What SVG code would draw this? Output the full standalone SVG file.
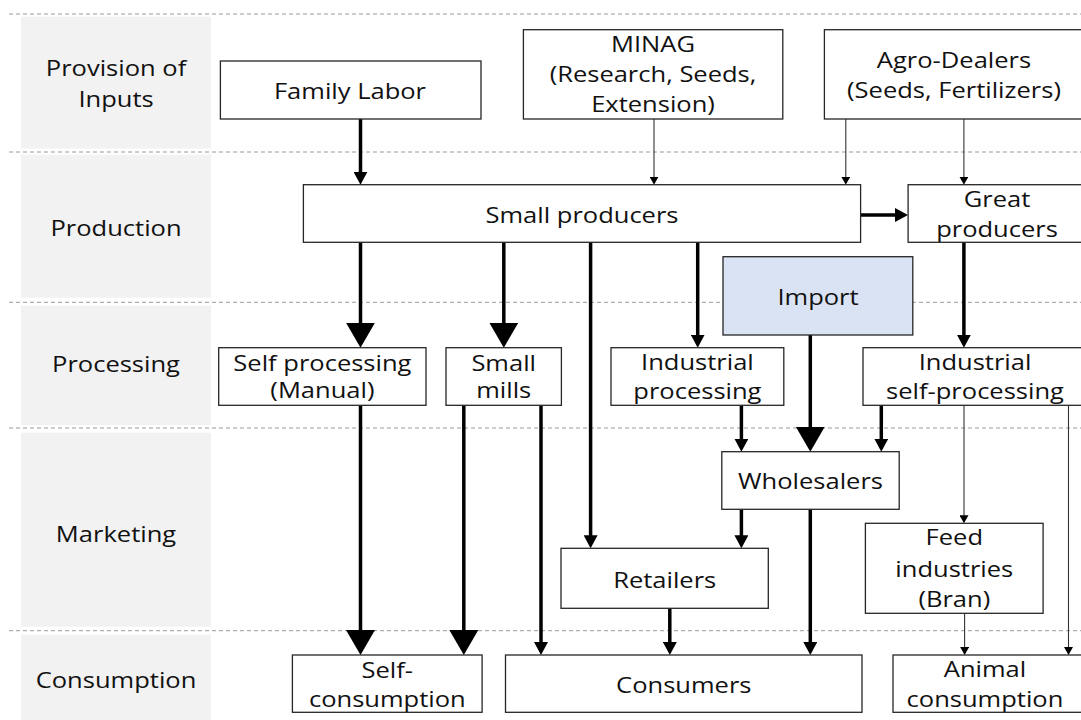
<svg xmlns="http://www.w3.org/2000/svg" width="1081" height="720" viewBox="0 0 1081 720">
<style>
.lane{fill:#f2f2f2;stroke:none}
.sep{stroke:#9a9a9a;stroke-width:1;stroke-dasharray:4 3;fill:none}
.box{fill:#ffffff;stroke:#262626;stroke-width:1.3}
.imp{fill:#dae3f3;stroke:#262626;stroke-width:1.3}
text{font-family:"Open Sans","Noto Sans","Liberation Sans",sans-serif;font-size:22px;fill:#111;text-anchor:middle}
.thick{stroke:#000;stroke-width:3.5;fill:none}
.thin{stroke:#333;stroke-width:1.1;fill:none}
</style>
<defs>
<marker id="big" markerUnits="userSpaceOnUse" viewBox="0 0 25 29" markerWidth="25" markerHeight="29" refX="1" refY="14.5" orient="auto"><path d="M0,0 L25,14.5 L0,29 z" fill="#000"/></marker>
<marker id="med" markerUnits="userSpaceOnUse" viewBox="0 0 13 14" markerWidth="13" markerHeight="14" refX="1" refY="7" orient="auto"><path d="M0,0 L13,7 L0,14 z" fill="#000"/></marker>
<marker id="sm" markerUnits="userSpaceOnUse" viewBox="0 0 8 9" markerWidth="8" markerHeight="9" refX="1" refY="4.5" orient="auto"><path d="M0,0 L8,4.5 L0,9 z" fill="#000"/></marker>
</defs>
<rect width="1081" height="720" fill="#ffffff"/>
<g id="lanes">
<rect class="lane" x="21" y="16.7" width="190" height="132"/>
<rect class="lane" x="21" y="154.7" width="190" height="143"/>
<rect class="lane" x="21" y="305.7" width="190" height="119.3"/>
<rect class="lane" x="21" y="432.7" width="190" height="194"/>
<rect class="lane" x="21" y="634.7" width="190" height="85.3"/>
<line class="sep" x1="9" y1="14" x2="1081" y2="14"/>
<line class="sep" x1="9" y1="152" x2="1081" y2="152"/>
<line class="sep" x1="9" y1="302.3" x2="1081" y2="302.3"/>
<line class="sep" x1="9" y1="428" x2="1081" y2="428"/>
<line class="sep" x1="9" y1="630.7" x2="1081" y2="630.7"/>
<text transform="translate(116 0) scale(1.16 1)"><tspan x="0" y="76.5">Provision of</tspan><tspan x="0" y="107">Inputs</tspan></text>
<text transform="translate(116 0) scale(1.16 1)" y="236">Production</text>
<text transform="translate(116 0) scale(1.16 1)" y="371.7">Processing</text>
<text transform="translate(116 0) scale(1.16 1)" y="541.7">Marketing</text>
<text transform="translate(116 0) scale(1.16 1)" y="688.3">Consumption</text>
</g>
<g id="connectors">
<line class="thick" x1="360.5" y1="119" x2="360.5" y2="172.7" marker-end="url(#med)"/>
<line class="thin" x1="654" y1="119" x2="654" y2="177.7" marker-end="url(#sm)"/>
<line class="thin" x1="845.8" y1="119" x2="845.8" y2="177.7" marker-end="url(#sm)"/>
<line class="thin" x1="963.9" y1="119" x2="963.9" y2="177.7" marker-end="url(#sm)" stroke="#666"/>
<line class="thick" x1="860.6" y1="215" x2="896" y2="215" marker-end="url(#med)"/>
<line class="thick" x1="360.5" y1="242.3" x2="360.5" y2="323.7" marker-end="url(#big)"/>
<line class="thick" x1="503.8" y1="242.3" x2="503.8" y2="323.7" marker-end="url(#big)"/>
<line class="thick" x1="590.6" y1="242.3" x2="590.6" y2="536.3" marker-end="url(#med)"/>
<line class="thick" x1="697.7" y1="242.3" x2="697.7" y2="335.7" marker-end="url(#med)"/>
<line class="thick" x1="963.9" y1="242.3" x2="963.9" y2="335.7" marker-end="url(#med)"/>
<line class="thick" x1="810.3" y1="335" x2="810.3" y2="427.7" marker-end="url(#big)"/>
<line class="thick" x1="741.4" y1="405.3" x2="741.4" y2="439.7" marker-end="url(#med)"/>
<line class="thick" x1="881.3" y1="405.3" x2="881.3" y2="439.7" marker-end="url(#med)"/>
<line class="thin" x1="964" y1="405.3" x2="964" y2="516.3" marker-end="url(#sm)"/>
<line class="thin" x1="1068.5" y1="405.3" x2="1068.5" y2="648" marker-end="url(#sm)"/>
<line class="thick" x1="360.5" y1="405.3" x2="360.5" y2="631" marker-end="url(#big)"/>
<line class="thick" x1="463.8" y1="405.3" x2="463.8" y2="631" marker-end="url(#big)"/>
<line class="thick" x1="541" y1="405.3" x2="541" y2="643" marker-end="url(#med)"/>
<line class="thick" x1="741.4" y1="509.3" x2="741.4" y2="536.3" marker-end="url(#med)"/>
<line class="thick" x1="810.3" y1="509.3" x2="810.3" y2="643" marker-end="url(#med)"/>
<line class="thick" x1="669.8" y1="608.3" x2="669.8" y2="643" marker-end="url(#med)"/>
<line class="thin" x1="964.6" y1="613.3" x2="964.6" y2="648" marker-end="url(#sm)"/>
</g>
<g id="family-labor"><rect class="box" x="220.4" y="61" width="260.6" height="58"/><text transform="translate(350 0) scale(1.16 1)" y="99">Family Labor</text></g>
<g id="minag"><rect class="box" x="523.4" y="29.7" width="259.4" height="89.3"/><text transform="translate(653 0) scale(1.16 1)"><tspan x="0" y="51.7">MINAG</tspan><tspan x="0" y="81.7">(Research, Seeds,</tspan><tspan x="0" y="111.7">Extension)</tspan></text></g>
<g id="agro-dealers"><rect class="box" x="824.4" y="29.7" width="270" height="89.3"/><text transform="translate(954 0) scale(1.16 1)"><tspan x="0" y="68.3">Agro-Dealers</tspan><tspan x="0" y="98.3">(Seeds, Fertilizers)</tspan></text></g>
<g id="small-producers"><rect class="box" x="303.4" y="184.7" width="557.2" height="57.6"/><text transform="translate(582 0) scale(1.16 1)" y="223.3">Small producers</text></g>
<g id="great-producers"><rect class="box" x="908.1" y="184.7" width="190" height="57.6"/><text transform="translate(997 0) scale(1.16 1)"><tspan x="0" y="206.7">Great</tspan><tspan x="0" y="236.7">producers</tspan></text></g>
<g id="import"><rect class="imp" x="723" y="256.7" width="189.8" height="78.3"/><text transform="translate(818 0) scale(1.16 1)" y="305">Import</text></g>
<g id="self-processing"><rect class="box" x="218.7" y="347.7" width="207.3" height="57.6"/><text transform="translate(322.4 0) scale(1.16 1)"><tspan x="0" y="371">Self processing</tspan><tspan x="0" y="398.3">(Manual)</tspan></text></g>
<g id="small-mills"><rect class="box" x="446" y="347.7" width="115.4" height="57.6"/><text transform="translate(503.7 0) scale(1.16 1)"><tspan x="0" y="371">Small</tspan><tspan x="0" y="398.3">mills</tspan></text></g>
<g id="industrial-processing"><rect class="box" x="611" y="347.7" width="172.8" height="57.6"/><text transform="translate(697.4 0) scale(1.16 1)"><tspan x="0" y="370">Industrial</tspan><tspan x="0" y="399">processing</tspan></text></g>
<g id="industrial-self-processing"><rect class="box" x="863" y="347.7" width="230" height="57.6"/><text transform="translate(975 0) scale(1.16 1)"><tspan x="0" y="370">Industrial</tspan><tspan x="0" y="399">self-processing</tspan></text></g>
<g id="wholesalers"><rect class="box" x="721.8" y="451.7" width="177.4" height="57.6"/><text transform="translate(810.5 0) scale(1.16 1)" y="489">Wholesalers</text></g>
<g id="retailers"><rect class="box" x="561" y="548.3" width="207.3" height="60"/><text transform="translate(664.7 0) scale(1.16 1)" y="588.3">Retailers</text></g>
<g id="feed-industries"><rect class="box" x="865.4" y="523.3" width="177.7" height="90"/><text transform="translate(954.3 0) scale(1.16 1)"><tspan x="0" y="545">Feed</tspan><tspan x="0" y="576.7">industries</tspan><tspan x="0" y="607.3">(Bran)</tspan></text></g>
<g id="self-consumption"><rect class="box" x="292.4" y="655" width="189.7" height="57.3"/><text transform="translate(387.3 0) scale(1.16 1)"><tspan x="0" y="678">Self-</tspan><tspan x="0" y="706.7">consumption</tspan></text></g>
<g id="consumers"><rect class="box" x="505.5" y="655" width="356.5" height="57.3"/><text transform="translate(683.8 0) scale(1.16 1)" y="693.3">Consumers</text></g>
<g id="animal-consumption"><rect class="box" x="893" y="655" width="200" height="57.3"/><text transform="translate(985 0) scale(1.16 1)"><tspan x="0" y="676.7">Animal</tspan><tspan x="0" y="706.7">consumption</tspan></text></g>
</svg>
